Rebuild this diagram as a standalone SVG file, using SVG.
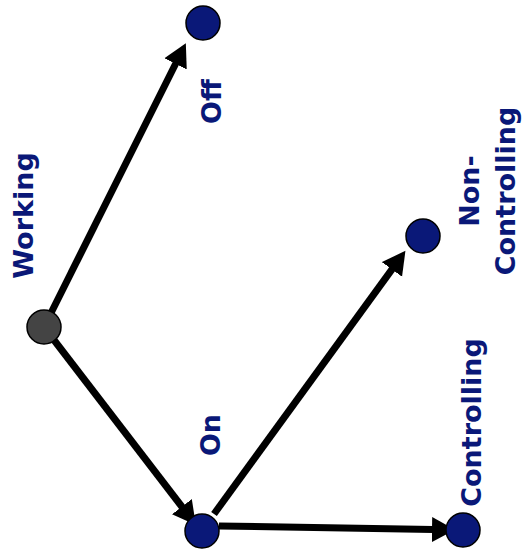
<svg xmlns="http://www.w3.org/2000/svg" width="523" height="560" viewBox="0 0 523 560">
  <style>
    .node { fill: #0a1878; stroke: #000; stroke-width: 1.5; }
    .start { fill: #444444; stroke: #000; stroke-width: 1.5; }
    .edge { stroke: #000; stroke-width: 7; fill: none; marker-end: url(#arrow); }
    .label { font-family: "DejaVu Sans", Verdana, sans-serif; font-weight: bold; font-size: 27px; fill: #0a1878; text-anchor: middle; }
  </style>
  <defs>
    <marker id="arrow" markerUnits="userSpaceOnUse" markerWidth="24" markerHeight="26" refX="1" refY="12.5" orient="auto" viewBox="0 0 24 25">
      <path d="M0,0 L23,12.5 L0,25 z" fill="#000"/>
    </marker>
  </defs>
  <g id="connectors">
    <line class="edge" x1="44" y1="327" x2="176" y2="63"/>
    <line class="edge" x1="44" y1="327" x2="182.5" y2="507.5"/>
    <line class="edge" x1="214" y1="514" x2="392.5" y2="268.6"/>
    <line class="edge" x1="219" y1="526" x2="433" y2="529.5"/>
  </g>
  <g id="working">
    <circle class="start" cx="44" cy="327" r="17"/>
    <text class="label" transform="translate(33,215.5) rotate(-90)">Working</text>
  </g>
  <g id="off">
    <circle class="node" cx="203" cy="23" r="17"/>
    <text class="label" transform="translate(221,101.5) rotate(-90)">Off</text>
  </g>
  <g id="on">
    <circle class="node" cx="202" cy="531" r="17"/>
    <text class="label" transform="translate(220,435) rotate(-90)">On</text>
  </g>
  <g id="non-controlling">
    <circle class="node" cx="423" cy="236" r="17"/>
    <text class="label" transform="translate(479,191) rotate(-90)"><tspan x="0" y="0">Non-</tspan><tspan x="0" y="36">Controlling</tspan></text>
  </g>
  <g id="controlling">
    <circle class="node" cx="463" cy="530" r="17"/>
    <text class="label" transform="translate(481,422.5) rotate(-90)">Controlling</text>
  </g>
</svg>
